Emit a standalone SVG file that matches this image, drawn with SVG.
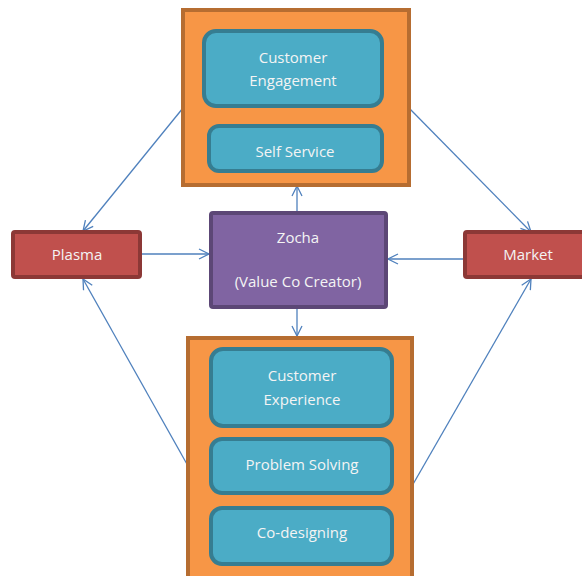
<svg xmlns="http://www.w3.org/2000/svg" width="582" height="576" viewBox="0 0 582 576">
<defs>
<marker id="arr" viewBox="0 0 12 12" refX="11" refY="6" markerWidth="12" markerHeight="12" markerUnits="userSpaceOnUse" orient="auto">
<path d="M1,1 L11,6 L1,11" fill="none" stroke="#4F81BD" stroke-width="1.3"/>
</marker>
</defs>
<style>
.outer{fill:#F79646;stroke:#B66D31;stroke-width:4}
.inner{fill:#4BACC6;stroke:#367D91;stroke-width:4}
.red{fill:#C0504D;stroke:#8C3836;stroke-width:4}
.purple{fill:#8064A2;stroke:#5C4776;stroke-width:4}
text{font-family:"Open Sans","Liberation Sans",sans-serif;font-size:15px;fill:#F4F4F4;text-anchor:middle;dominant-baseline:central}
.conn line{stroke:#4F81BD;stroke-width:1.3;marker-end:url(#arr)}
</style>
<rect width="582" height="576" fill="#FFFFFF"/>
<g class="conn">
<line x1="183" y1="108" x2="83" y2="231"/>
<line x1="409" y1="108" x2="531" y2="232"/>
<line x1="141" y1="254" x2="209" y2="254"/>
<line x1="464" y1="259" x2="388" y2="259"/>
<line x1="297" y1="212" x2="297" y2="186"/>
<line x1="297" y1="308" x2="297" y2="336"/>
<line x1="188" y1="466" x2="83" y2="279"/>
<line x1="412" y1="486" x2="531" y2="279"/>
</g>
<g id="top-group">
<rect class="outer" x="183" y="10" width="226" height="175"/>
<g id="customer-engagement">
<rect class="inner" x="204" y="31" width="178" height="75" rx="12"/>
<text x="293" y="57">Customer</text>
<text x="293" y="80">Engagement</text>
</g>
<g id="self-service">
<rect class="inner" x="209" y="126" width="173" height="45" rx="10"/>
<text x="295" y="151">Self Service</text>
</g>
</g>
<g id="plasma">
<rect class="red" x="13" y="232" width="127" height="45" rx="2"/>
<text x="77" y="254">Plasma</text>
</g>
<g id="zocha">
<rect class="purple" x="211" y="213" width="175" height="94" rx="2"/>
<text x="298" y="237">Zocha</text>
<text x="298" y="281">(Value Co Creator)</text>
</g>
<g id="market">
<rect class="red" x="465" y="232" width="120" height="45" rx="2"/>
<text x="528" y="254">Market</text>
</g>
<g id="bottom-group">
<rect class="outer" x="188" y="338" width="224" height="245"/>
<g id="customer-experience">
<rect class="inner" x="211" y="349" width="181" height="77" rx="12"/>
<text x="302" y="375">Customer</text>
<text x="302" y="399">Experience</text>
</g>
<g id="problem-solving">
<rect class="inner" x="211" y="439" width="181" height="54" rx="11"/>
<text x="302" y="464">Problem Solving</text>
</g>
<g id="co-designing">
<rect class="inner" x="211" y="508" width="181" height="56" rx="11"/>
<text x="302" y="532">Co-designing</text>
</g>
</g>
</svg>
